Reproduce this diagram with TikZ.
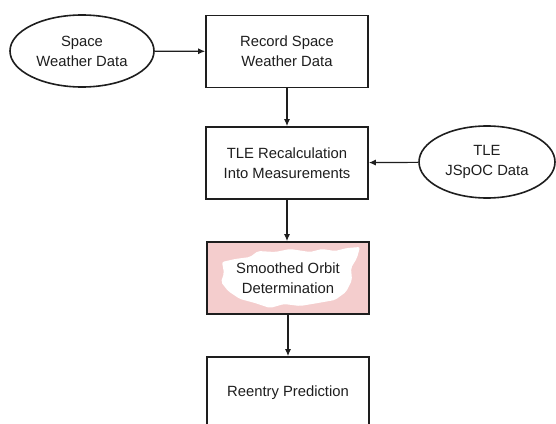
\documentclass[tikz,border=0pt]{standalone}
\usepackage{fontspec}
\setmainfont{Liberation Sans}
\usetikzlibrary{shapes.geometric,arrows.meta}
\definecolor{ln}{HTML}{1E1E1E}
\definecolor{pinkfill}{HTML}{F4CDCD}
\tikzset{
  every node/.style={font=\fontsize{14.8}{20}\selectfont, text=ln, align=center},
  procbox/.style={draw=ln, line width=1.6pt, rectangle, minimum width=162pt, minimum height=72pt, inner sep=0pt},
  databubble/.style={draw=ln, line width=1.6pt, ellipse, inner sep=0pt},
  flow/.style={draw=ln, line width=1.2pt, -{Latex[length=7pt,width=6pt]}}
}
\begin{document}
\begin{tikzpicture}[x=1pt,y=-1pt]
\useasboundingbox (0,0) rectangle (556,423);
\clip (0,0) rectangle (556,423);
\fill[white] (0,0) rectangle (556,423);
\node[databubble, minimum width=144pt, minimum height=72pt] (swd) at (82,51) {Space\\Weather Data};
\node[procbox] (rec) at (287,51.5) {Record Space\\Weather Data};
\node[procbox] (tle) at (287,163) {TLE Recalculation\\Into Measurements};
\node[databubble, minimum width=136pt, minimum height=72pt] (jsp) at (487,162) {TLE\\JSpOC Data};
\node[procbox, fill=pinkfill] (sod) at (288,278) {};
\fill[white, rounded corners=2pt] (222,262) -- (235,259) -- (250,257) -- (258,251) -- (275,252) -- (290,249) -- (310,252) -- (322,249) -- (335,251) -- (347,248) -- (360,247) -- (357,258) -- (351,268) -- (352,280) -- (346,292) -- (335,300) -- (318,303) -- (300,306) -- (284,304) -- (270,308) -- (255,303) -- (240,299) -- (228,291) -- (221,282) -- (224,273) -- cycle;
\node (sodt) at (288,278) {Smoothed Orbit\\Determination};
\node[procbox] (rp) at (288,393) {Reentry Prediction};
\draw[flow] (swd) -- (rec);
\draw[flow] (rec) -- (tle);
\draw[flow] (jsp) -- (tle);
\draw[flow] (tle.south) -- (tle.south |- sod.north);
\draw[flow] (sod) -- (rp);
\end{tikzpicture}
\end{document}
